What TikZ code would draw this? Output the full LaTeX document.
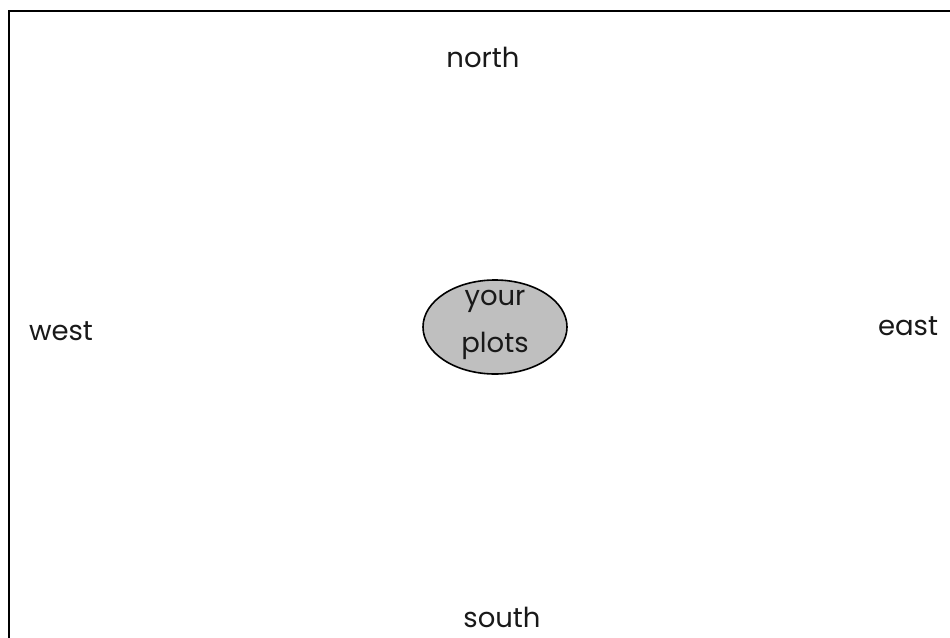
\documentclass[tikz,border=0pt]{standalone}
\usepackage{fontspec}
\setmainfont{Poppins}
\usetikzlibrary{shapes.geometric}
\begin{document}
\begin{tikzpicture}[x=1pt,y=-1pt,
  lbl/.style={anchor=base,inner sep=0pt,font=\fontsize{27.5}{32}\selectfont,text=black!90},
  plotbox/.style={ellipse,draw=black,line width=1.6pt,fill=black!25,minimum width=144pt,minimum height=94pt,inner sep=0pt}]
\useasboundingbox (0,0) rectangle (950,637);
\fill[white] (0,0) rectangle (950,637);
\begin{scope}
\clip (0,0) rectangle (950,637);
\draw[line width=2.2pt] (9,11) rectangle (980,680);
\end{scope}
\node[plotbox] (plots) at (495,327) {};
\node[lbl] (your) at (495,305) {your};
\node[lbl] (plotstxt) at (495,352) {plots};
\node[lbl] (north) at (483,67) {north};
\node[lbl,text depth=0pt] (south) at (502,627) {south};
\node[lbl] (west) at (61,340) {west};
\node[lbl] (east) at (908,335) {east};
\end{tikzpicture}
\end{document}
